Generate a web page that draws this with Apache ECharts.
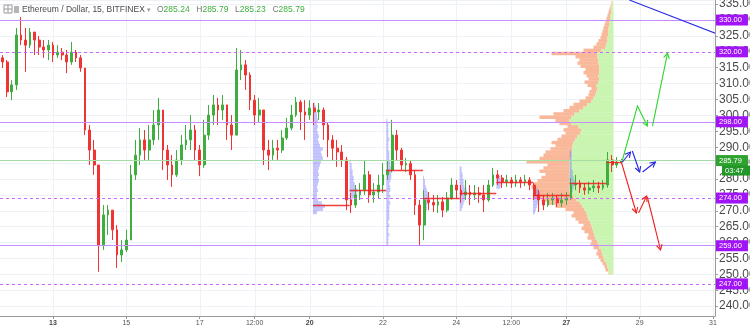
<!DOCTYPE html>
<html><head><meta charset="utf-8">
<script src="https://cdn.jsdelivr.net/npm/echarts@6/dist/echarts.min.js"></script>
<style>html,body{margin:0;padding:0;background:#fff}#c{width:750px;height:332px}</style>
</head><body><div id="c"></div>
<script>
// ---------- DATA ----------
const candleStart = 11.625, candleStep = 0.125, firstOpen = 318.1;
const closes = [316.8,307.4,309.6,325.3,323.7,322.1,326.2,323.7,321.5,320.6,
 322.1,319.0,319.9,319.0,316.8,319.9,318.1,314.9,295.4,289.1,
 284.4,259.2,268.7,270.2,264.0,256.1,257.7,260.8,281.3,287.5,
 292.3,289.1,292.3,297.0,301.7,289.1,284.4,281.3,286.0,290.7,
 292.3,295.4,289.1,284.4,293.8,300.1,303.3,301.7,303.3,297.0,
 293.8,314.3,315.9,312.7,304.8,300.1,301.7,289.1,287.5,289.7,
 289.1,292.9,296.0,300.1,304.2,301.1,300.1,302.3,301.1,301.7,
 297.0,292.3,289.7,288.5,286.0,273.4,271.8,275.0,276.5,281.3,
 275.0,275.9,278.1,281.3,282.8,293.8,289.1,284.4,284.9,281.3,
 271.8,265.5,273.4,272.6,271.8,272.8,270.2,274.0,278.1,276.5,
 275.0,275.9,275.0,275.6,275.0,273.4,278.1,281.3,280.3,279.1,
 279.7,278.7,279.7,279.1,279.7,278.1,275.0,273.4,271.8,273.4,
 274.0,272.5,273.4,274.0,278.1,278.7,277.2,276.5,277.2,277.8,
 277.2,278.1,286.0,284.4,285.3,285.79];
const highs = [319.0,317.4,311.1,327.5,330.9,327.5,327.5,326.2,325.0,323.7,
 323.7,323.1,322.1,321.2,320.6,323.1,320.6,319.0,314.9,297.0,
 292.3,284.4,271.8,271.8,270.2,265.5,260.8,264.0,284.4,292.3,
 296.0,295.4,297.0,301.7,305.5,301.7,290.7,287.5,289.1,293.8,
 297.0,300.1,297.0,290.7,298.6,303.3,306.4,305.5,306.4,303.3,
 300.1,321.2,320.6,317.4,313.5,306.4,305.5,301.7,292.3,292.3,
 292.3,295.4,299.2,303.3,305.8,304.8,304.8,304.8,303.9,303.9,
 302.5,297.8,293.8,292.3,290.7,286.9,275.6,278.1,278.7,286.0,
 282.5,278.7,281.3,285.0,286.0,298.6,295.4,289.8,286.6,286.0,
 282.8,273.4,276.5,275.9,275.0,275.0,274.3,275.9,280.3,279.7,
 278.1,279.7,278.1,278.1,277.5,278.1,279.7,283.5,282.8,281.3,
 281.3,280.6,281.3,280.6,281.3,280.6,278.8,276.5,275.0,275.6,
 275.6,275.0,275.6,275.9,280.3,281.3,279.7,278.7,279.1,279.7,
 279.1,279.7,288.5,287.5,286.9,286.3];
const lows = [314.9,305.8,304.8,308.0,322.1,313.7,321.2,319.0,319.0,318.1,
 317.4,316.8,318.1,317.4,313.3,315.9,316.8,313.7,293.8,284.4,
 281.3,250.8,257.7,262.4,260.8,252.0,253.9,257.0,260.8,279.7,
 284.4,286.0,286.0,290.7,292.3,282.8,279.7,277.5,280.6,284.4,
 289.1,289.1,286.0,280.9,283.5,292.3,297.0,297.0,298.6,292.3,
 289.1,293.8,311.1,308.0,301.7,297.0,297.9,284.4,282.8,286.0,
 286.0,288.2,292.3,295.3,299.5,295.4,292.3,298.6,297.0,298.6,
 292.3,286.9,286.0,283.8,283.8,270.2,269.3,270.9,273.4,275.0,
 272.5,272.5,274.0,275.6,279.7,282.2,286.0,282.8,282.2,279.7,
 268.7,259.2,260.8,270.2,269.6,269.3,268.0,269.5,273.5,274.0,
 272.5,273.4,271.8,273.4,272.5,269.6,272.8,277.5,278.1,277.2,
 277.5,277.2,277.5,277.2,277.8,276.5,273.4,269.6,270.2,271.2,
 271.8,271.2,271.2,271.8,273.4,276.5,275.6,275.0,275.3,275.9,
 275.6,276.5,277.2,282.2,283.5,284.7];

const xTickValues = [13,15,17,18.5,20,22,24,25.5,27,29,31];
const xTickLabels = ['13','15','17','12:00','20','22','24','12:00','27','29','31'];
const boldTickLabels = ['13','20','27'];

const levelPrices = [330,320,298,274,259,247];
const levelDashed = [false,true,false,true,false,true];
const lastPrice = 285.79;
const countdownText = '03:47';
const headerTitle = 'Ethereum / Dollar, 15, BITFINEX';
const ohlcLabels = ['O','H','L','C'];
const ohlcValues = ['285.24','285.79','285.23','285.79'];

// visible-range volume profile (rows of 1.0 price, from 250 upward)
const profileAnchor = 28.286, profileLow = 250;
const profileUp = [4,5,6,7,9,10,11,12,14,15,16,18,19,20,21,22,23,25,26,27,
 29,31,33,37,40,43,44,44,44,44,44,44,44,44,44,44,43,42,42,41,
 41,40,38,36,33,32,35,42,44,42,39,34,30,26,22,20,18,17,16,17,
 15,14,15,14,14,14,15,15,16,16,12,8,7,6,6,5,5,5,4,4,
 3,3,2,2,2,1];
const profileDown = [1,3,3,4,4,5,6,4,6,8,6,8,6,9,11,8,12,13,16,13,
 19,27,32,35,39,37,34,38,36,32,28,24,30,26,22,43,31,28,26,22,
 17,22,18,16,15,18,11,12,14,32,21,16,14,14,12,8,7,7,6,9,
 14,11,12,16,14,19,21,19,22,46,18,12,10,9,7,7,6,5,5,4,
 4,3,3,2,1,1];

// daily session profiles + POC
const sessionStarts = [20.09,21.09,22.09,23.09,24.09,25.09,26.09,27.09,28.09];
const sessionEnds   = [21.09,22.09,23.09,24.09,25.09,26.09,27.09,28.09,28.50];
const pocPrices     = [271.8,276.5,282.8,274.0,275.6,279.1,275.0,278.7,285.3];
const sessionProfileLow = [269,273,259,268,270,277,269,276,null];
const sessionProfileVol = [
 [4,10,12,9,5,4,4,5,4,5,6,5,6,5,6,7,8,10,9,8,10,7,6,5,6,5,4,5,4,5,4,4,3,3,2],
 [3,5,7,8,6,5,4,4,3,3,2,2,1],
 [2,2,2,3,2,2,3,2,3,3,3,3,3,4,3,4,3,4,4,3,4,5,5,6,5,4,4,3,3,3,2,2,2,3,2,2,2,2,2,1],
 [2,3,4,4,5,5,6,5,4,3,2,2,1],
 [2,3,4,5,6,7,7,5,4,4,3,3,2,2],
 [4,6,7,4],
 [2,3,4,5,6,7,7,5,3],
 [3,4,5,5,4,3,3,2,2,2,2,2,2],
 null
];

// projection arrows (day, price)
const arrowPaths = [
 [[28.53,285.97],[28.94,302.95],[29.21,296.66]],
 [[29.35,296.66],[29.76,319.62]],
 [[28.53,285.34],[28.75,288.48]],
 [[28.80,288.80],[29.00,282.19]],
 [[29.08,282.19],[29.43,285.34]],
 [[28.50,285.34],[28.91,269.30]],
 [[28.97,269.30],[29.19,274.65]],
 [[29.21,274.33],[29.57,257.67]],
 [[28.72,336.29],[31.06,325.85]]
];
const arrowColors = ['#2fd62f','#2fd62f','#2424e8','#2424e8','#2424e8','#f02020','#f02020','#f02020','#2a2ae6'];
const arrowHasHead = [true,true,true,true,true,true,true,true,false];

// ---------- CHART ----------
const FONT = '"Liberation Sans", Arial, sans-serif';
const chart = echarts.init(document.getElementById('c'));
const candleData = closes.map((c,i)=>[candleStart+i*candleStep, i===0?firstOpen:closes[i-1], c, lows[i], highs[i]]);
const profileData = profileUp.map((u,i)=>[profileAnchor, profileLow+i, u, profileDown[i]]);
const smallProfileData = [];
sessionStarts.forEach((s,k)=>{
  const w = sessionProfileVol[k]; if(!w) return;
  w.forEach((v,j)=>smallProfileData.push([s, sessionProfileLow[k]+j, v]));
});
const pocData = sessionStarts.map((s,k)=>[s, pocPrices[k], sessionEnds[k]]);

const levelLines = levelPrices.map((p,i)=>({
  yAxis: p,
  lineStyle: {color: levelDashed[i] ? '#cc66ff' : '#c98cff', type: levelDashed[i] ? [3,3] : 'solid', width: 1},
  label: {show:true, position:'end', distance:1, formatter: p.toFixed(2), color:'#fff',
    backgroundColor:'#a014f5', padding:[2,6,1,3], fontSize:7.5, fontFamily:FONT}
}));
levelLines.push({
  yAxis: lastPrice,
  lineStyle: {color:'#a6dca6', type:'solid', width:1},
  label: {show:true, position:'end', distance:1, formatter: lastPrice.toFixed(2), color:'#fff',
    backgroundColor:'#2ea22e', padding:[2,6,1,3], fontSize:7.5, fontFamily:FONT}
});

function rowRect(api, x0, p){
  const a = api.coord([x0, p]);
  const b = api.coord([x0, p+1]);
  return {a, b, h: a[1]-b[1]+0.3};
}

const option = {
  animation: false,
  backgroundColor: '#fff',
  grid: {left:0, right:35, top:0, bottom:16, containLabel:false, outerBoundsMode:'none'},
  xAxis: {
    type:'value', min:11.555, max:31.055,
    axisLine:{show:true, lineStyle:{color:'#9a9a9a'}},
    axisTick:{show:true, customValues:xTickValues, length:3, lineStyle:{color:'#9a9a9a'}},
    axisLabel:{show:true, customValues:xTickValues, fontSize:7, color:'#555', fontFamily:FONT, margin:4,
      formatter:(v)=>{const i = xTickValues.findIndex(t=>Math.abs(t-v)<1e-6); const s = i>=0?xTickLabels[i]:''; return boldTickLabels.includes(s)?'{b|'+s+'}':s;},
      rich:{b:{fontWeight:'bold', fontSize:7, color:'#444', fontFamily:FONT}}},
    splitLine:{show:false}
  },
  yAxis: {
    type:'value', position:'right', min:236.9, max:336.3, splitNumber:20,
    axisLine:{show:true, lineStyle:{color:'#9a9a9a'}},
    axisTick:{show:true, length:3, lineStyle:{color:'#9a9a9a'}},
    axisLabel:{show:true, showMinLabel:false, showMaxLabel:false, margin:4, fontSize:12, color:'#4a4a4a', fontFamily:FONT,
      formatter:(v)=>v.toFixed(2)},
    splitLine:{show:true, lineStyle:{color:'#eef1f6'}}
  },
  series: [
    { // vertical grid lines
      type:'custom', z:0, silent:true,
      data: xTickValues.map(v=>[v, 300]), encode:{x:0, y:1},
      renderItem:(params, api)=>{
        const c = api.coord([api.value(0), api.value(1)]);
        const cs = params.coordSys;
        return {type:'line', shape:{x1:Math.round(c[0])+0.5, y1:cs.y, x2:Math.round(c[0])+0.5, y2:cs.y+cs.height}, style:{stroke:'#eef1f6', lineWidth:1}};
      }
    },
    { // big visible-range volume profile
      type:'custom', z:1, silent:true, clip:true,
      data: profileData, encode:{x:0, y:1},
      renderItem:(params, api)=>{
        const r = rowRect(api, api.value(0), api.value(1));
        const up = api.value(2), dn = api.value(3);
        const x = r.a[0];
        return {type:'group', children:[
          {type:'rect', shape:{x:x-up-dn, y:r.b[1], width:dn, height:r.h}, style:{fill:'#f9b899'}},
          {type:'rect', shape:{x:x-up, y:r.b[1], width:up, height:r.h}, style:{fill:'#c9f5b0'}}
        ]};
      }
    },
    { // daily session profiles
      type:'custom', z:1, silent:true, clip:true,
      data: smallProfileData, encode:{x:0, y:1},
      renderItem:(params, api)=>{
        const r = rowRect(api, api.value(0), api.value(1));
        return {type:'rect', shape:{x:r.a[0], y:r.b[1], width:api.value(2), height:r.h}, style:{fill:'rgba(120,120,250,0.42)'}};
      }
    },
    {
      type:'candlestick', z:2,
      data: candleData, encode:{x:0, y:[1,2,3,4]},
      barWidth: 2.2,
      itemStyle:{color:'#3fae3f', color0:'#f03434', borderColor:'#3fae3f', borderColor0:'#f03434', borderWidth:1},
      markLine:{symbol:['none','none'], silent:true, z:3, data: levelLines}
    },
    { // POC lines
      type:'custom', z:4, silent:true, clip:true,
      data: pocData, encode:{x:0, y:1},
      renderItem:(params, api)=>{
        const a = api.coord([api.value(0), api.value(1)]);
        const b = api.coord([api.value(2), api.value(1)]);
        const y = Math.round(a[1])+0.5;
        return {type:'line', shape:{x1:a[0], y1:y, x2:b[0], y2:y}, style:{stroke:'rgba(240,30,30,0.85)', lineWidth:1.3}};
      }
    },
    { // projection arrows
      type:'custom', z:5, silent:true, clip:true,
      data: arrowPaths.map(p=>p[0]), encode:{x:0, y:1},
      renderItem:(params, api)=>{
        const k = params.dataIndex;
        const pts = arrowPaths[k].map(p=>api.coord(p));
        const col = arrowColors[k];
        const children = [{type:'polyline', shape:{points:pts}, style:{stroke:col, lineWidth:1.1, fill:null}}];
        if (arrowHasHead[k]) {
          const P = pts[pts.length-1], Q = pts[pts.length-2];
          const ang = Math.atan2(P[1]-Q[1], P[0]-Q[0]);
          const L = 6, sp = 0.5;
          const h1 = [P[0]-L*Math.cos(ang-sp), P[1]-L*Math.sin(ang-sp)];
          const h2 = [P[0]-L*Math.cos(ang+sp), P[1]-L*Math.sin(ang+sp)];
          children.push({type:'polyline', shape:{points:[h1,P,h2]}, style:{stroke:col, lineWidth:1.1, fill:null}});
        }
        return {type:'group', children};
      }
    }
  ]
};
chart.setOption(option);

// header + countdown tag
const py = chart.convertToPixel({yAxisIndex:0}, lastPrice);
const richText = ohlcLabels.map((l,i)=>'{l|'+l+'}{g|'+ohlcValues[i]+'}').join('  ');
chart.setOption({graphic:[
  {type:'rect', x:4, y:5, shape:{width:8, height:8}, style:{fill:'none', stroke:'#9a9a9a', lineWidth:1}, z:100},
  {type:'line', shape:{x1:8, y1:5, x2:8, y2:13}, style:{stroke:'#9a9a9a'}, z:100},
  {type:'line', shape:{x1:4, y1:9, x2:12, y2:9}, style:{stroke:'#9a9a9a'}, z:100},
  {type:'rect', x:14, y:6, shape:{width:5, height:7}, style:{fill:'#b5b5b5'}, z:100},
  {type:'text', x:22, y:10, z:100, style:{text:headerTitle, fill:'#4a4a4a', fontSize:8.5, fontFamily:FONT, verticalAlign:'middle'}},
  {type:'text', x:147, y:10, z:100, style:{text:'▾', fill:'#999', fontSize:7, fontFamily:'DejaVu Sans', verticalAlign:'middle'}},
  {type:'text', x:157, y:10, z:100, style:{text:richText, verticalAlign:'middle',
    rich:{l:{fill:'#777', fontSize:8.5, fontFamily:FONT}, g:{fill:'#3fae3f', fontSize:8.5, fontFamily:FONT}}}},
  {type:'rect', x:722, y:py+5, shape:{width:28, height:10}, style:{fill:'#23962a'}, z:100},
  {type:'text', x:725, y:py+10, z:101, style:{text:countdownText, fill:'#fff', fontSize:7.5, fontFamily:FONT, verticalAlign:'middle'}}
]});
</script></body></html>
